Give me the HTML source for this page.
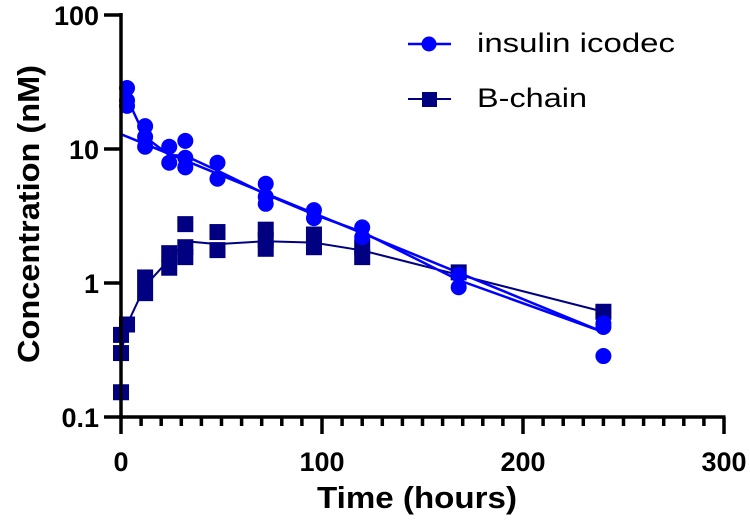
<!DOCTYPE html>
<html><head><meta charset="utf-8"><style>
body{margin:0;background:#fff}
svg{display:block;font-family:"Liberation Sans",Arial,sans-serif}
</style></head><body>
<svg id="chart" width="750" height="528"></svg>
<script>
const insTimes=[3,3,3,12,12,12,24,24,32,32,32,48,48,72,72,72,96,96,120,120,168,168,240,240,240];
const insValues=[28.5,23,21,14.8,12.3,10.4,10.4,7.9,11.5,8.6,7.3,7.9,6.0,5.5,4.4,3.9,3.5,3.05,2.6,2.2,1.15,0.93,0.5,0.47,0.285];
const insMeanTimes=[3,12,24,32,48,72,96,120,168,240];
const insMeanValues=[24,12.3,9.0,8.9,6.9,4.6,3.25,2.4,1.05,0.43];
const insFitTimes=[0,240];
const insFitValues=[12.9,0.43];
const bTimes=[0,0,0,3,12,12,24,24,32,32,32,48,48,72,72,72,96,96,120,120,168,240];
const bValues=[0.41,0.3,0.153,0.49,1.1,0.84,1.67,1.3,2.75,1.85,1.56,2.4,1.76,2.5,2.1,1.8,2.3,1.85,1.85,1.56,1.2,0.61];
const bMeanTimes=[0,3,12,24,32,48,72,96,120,168,240];
const bMeanValues=[0.29,0.49,0.95,1.5,2.05,1.95,2.05,2.0,1.75,1.15,0.61];
const xTicks=[0,100,200,300];
const yTicks=[0.1,1,10,100];
const yTickLabels=["0.1","1","10","100"];

const NS="http://www.w3.org/2000/svg";
const svg=document.getElementById('chart');
const X0=121,X1=724,Ytop=15,Ybot=417;
const xs=t=>X0+(t/300)*(X1-X0);
const ys=v=>Ybot-(Math.log10(v)+1)/3*(Ybot-Ytop);
function mk(tag,a){const e=document.createElementNS(NS,tag);for(const k in a)e.setAttribute(k,a[k]);svg.appendChild(e);return e;}

function line(ts,vs,color,w,name){
  const p=mk('polyline',{points:ts.map((t,i)=>xs(t)+','+ys(vs[i])).join(' '),fill:'none',stroke:color,'stroke-width':w});
  
  
}
line(bMeanTimes,bMeanValues,'#000080',2,'b-chain-mean-line');
line(insMeanTimes,insMeanValues,'#0000ff',2.5,'insulin-mean-line');
line(insFitTimes,insFitValues,'#0000ff',2.5,'insulin-fit-line');
bTimes.forEach((t,i)=>{
  const r=mk('rect',{x:xs(t)-8,y:ys(bValues[i])-8,width:16,height:16,fill:'#000080'});
  
  
});
insTimes.forEach((t,i)=>{
  const c=mk('circle',{cx:xs(t),cy:ys(insValues[i]),r:8,fill:'#0000ff'});
  
  
});

// axes
let a=mk('line',{x1:X0,y1:Ytop-2,x2:X0,y2:Ybot+2,stroke:'#000','stroke-width':3.5});


a=mk('line',{x1:X0-2,y1:Ybot,x2:X1+1.5,y2:Ybot,stroke:'#000','stroke-width':3.5});


for(let t=0;t<=300;t+=10){
  const major=t%100===0;
  mk('line',{x1:xs(t),y1:Ybot,x2:xs(t),y2:Ybot+(major?17:9),stroke:'#000','stroke-width':3.5});
}
xTicks.forEach(t=>{
  const tx=mk('text',{x:xs(t),y:471,'text-anchor':'middle','font-size':27,'font-weight':'bold'});
  tx.textContent=t;
  
  
});
yTicks.forEach((v,i)=>{
  mk('line',{x1:X0-17,y1:ys(v),x2:X0,y2:ys(v),stroke:'#000','stroke-width':3.5});
  const tx=mk('text',{x:99,y:ys(v)+10,'text-anchor':'end','font-size':27,'font-weight':'bold'});
  tx.textContent=yTickLabels[i];
  
  
});
let tt=mk('text',{x:317,y:508,'font-size':31,'font-weight':'bold',textLength:200,lengthAdjust:'spacingAndGlyphs'});
tt.textContent='Time (hours)';


tt=mk('text',{x:0,y:0,'font-size':31,'font-weight':'bold',textLength:298,lengthAdjust:'spacingAndGlyphs',transform:'translate(39,363) rotate(-90)'});
tt.textContent='Concentration (nM)';



// legend
mk('line',{x1:408,y1:44,x2:451,y2:44,stroke:'#0000ff','stroke-width':2.5});
mk('circle',{cx:429,cy:44,r:7.5,fill:'#0000ff'});
let lt=mk('text',{x:477,y:52,'font-size':27,textLength:198,lengthAdjust:'spacingAndGlyphs'});
lt.textContent='insulin icodec';


mk('line',{x1:408,y1:99,x2:451,y2:99,stroke:'#000080','stroke-width':2});
mk('rect',{x:422,y:92,width:15,height:15,fill:'#000080'});
lt=mk('text',{x:477,y:107,'font-size':27,textLength:110,lengthAdjust:'spacingAndGlyphs'});
lt.textContent='B-chain';


</script>
</body></html>
